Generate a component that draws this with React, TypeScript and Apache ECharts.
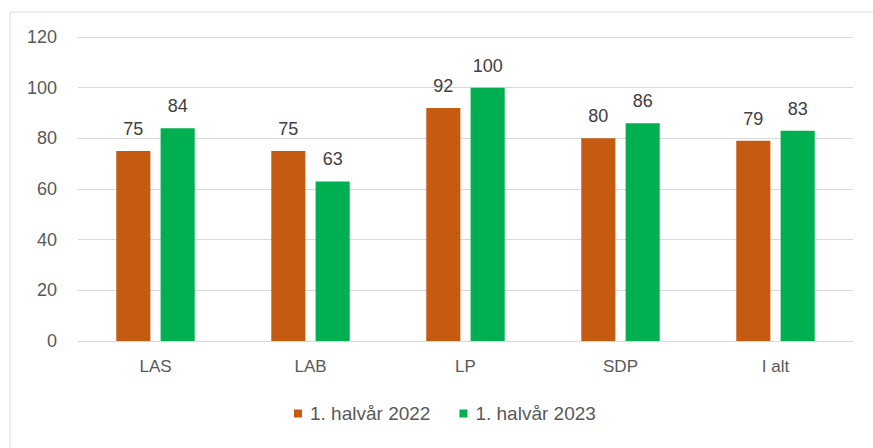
import React, { useEffect, useRef } from "react";
import * as echarts from "echarts";

const categories = ["LAS", "LAB", "LP", "SDP", "I alt"];
const series2022 = [75, 75, 92, 80, 79];
const series2023 = [84, 63, 100, 86, 83];
const seriesNames = ["1. halvår 2022", "1. halvår 2023"];

export default function App() {
  const ref = useRef<HTMLDivElement>(null);
  useEffect(() => {
    const chart = echarts.init(ref.current!, null, { renderer: "svg" });
    const font = "Liberation Sans, Arial, sans-serif";
    const textColor = "#595959";
    chart.setOption({
      animation: false,
      textStyle: { fontFamily: font },
      graphic: [
        {
          type: "rect",
          shape: { x: 10, y: 12, width: 900, height: 500 },
          style: { fill: "#fff", stroke: "#d9d9d9", lineWidth: 1 },
          z: -10,
          silent: true,
        },
      ],
      grid: { left: 78, right: 20, top: 37, bottom: 107, containLabel: false },
      legend: {
        data: seriesNames,
        top: 404,
        left: 294,
        padding: 0,
        itemWidth: 8,
        itemHeight: 8,
        itemGap: 29,
        icon: "rect",
        textStyle: { color: textColor, fontSize: 19, fontFamily: font, padding: [0, 0, 0, 3] },
      },
      xAxis: {
        type: "category",
        data: categories,
        axisLine: { lineStyle: { color: "#d9d9d9" } },
        axisTick: { show: false },
        axisLabel: { color: textColor, fontSize: 17, margin: 17 },
      },
      yAxis: {
        type: "value",
        min: 0,
        max: 120,
        interval: 20,
        axisLine: { show: false },
        axisTick: { show: false },
        splitLine: { lineStyle: { color: "#d9d9d9" } },
        axisLabel: { color: textColor, fontSize: 18, margin: 21 },
      },
      series: [
        {
          name: seriesNames[0],
          type: "bar",
          data: series2022,
          barWidth: "22%",
          barGap: "30%",
          itemStyle: { color: "#C55A11" },
          label: { show: true, position: "top", color: "#404040", fontSize: 18, distance: 13 },
        },
        {
          name: seriesNames[1],
          type: "bar",
          data: series2023,
          barWidth: "22%",
          itemStyle: { color: "#00B050" },
          label: { show: true, position: "top", color: "#404040", fontSize: 18, distance: 13 },
        },
      ],
    });
    return () => chart.dispose();
  }, []);
  return <div ref={ref} style={{ width: 873, height: 448, position: "absolute", left: 0, top: 0 }} />;
}
